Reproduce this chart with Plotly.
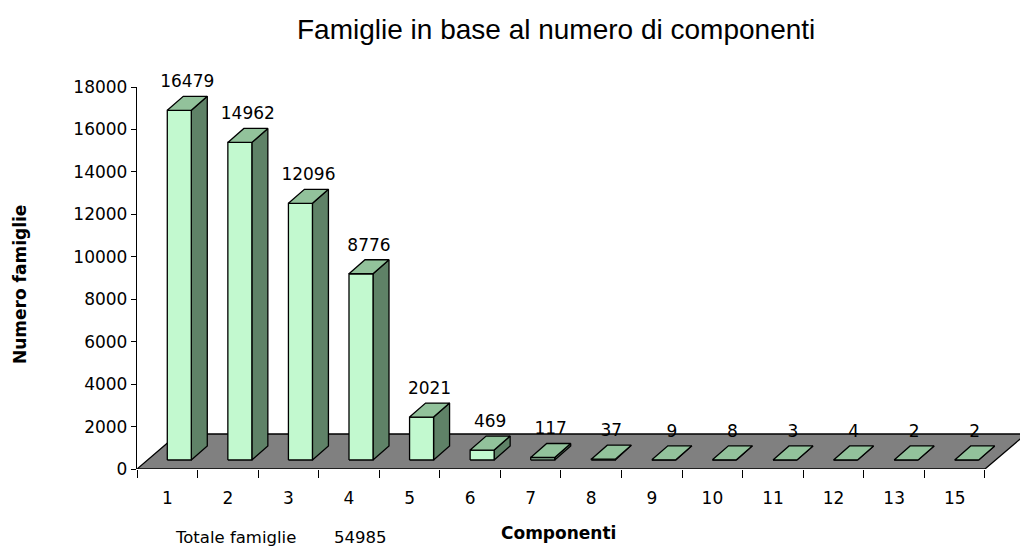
import plotly.graph_objects as go

# Data
categories = ["1", "2", "3", "4", "5", "6", "7", "8", "9", "10", "11", "12", "13", "15"]
families = [16479, 14962, 12096, 8776, 2021, 469, 117, 37, 9, 8, 3, 4, 2, 2]
y_ticks = [0, 2000, 4000, 6000, 8000, 10000, 12000, 14000, 16000, 18000]
total_label = "Totale famiglie"
total_value = 54985

# Layout geometry (pixels)
W, H = 1020, 550
PL, PR, PT, PB = 137, 0, 87, 81
plot_w = W - PL - PR
plot_h = H - PT - PB
Y_MAX = 18000
n = len(categories)
CAT_PX = 60.57                      # pixel width of one category slot
X_MAX = plot_w / CAT_PX
VAL_PER_PX = Y_MAX / plot_h


def dxy(dx_px, dy_px):
    """Convert a pixel offset of the oblique projection into data units."""
    return dx_px / CAT_PX, dy_px * VAL_PER_PX


# oblique offsets used for the pseudo-3D look
FLOOR_DX, FLOOR_DY = dxy(41, 35)    # full depth of the floor
FRONT_DX, FRONT_DY = dxy(12, 9)     # bar front face sits inside the floor
DEPTH_DX, DEPTH_DY = dxy(16, 14)    # bar depth
HALF_W = 12 / CAT_PX
LABEL_GAP = 5 * VAL_PER_PX          # extra space between bar top and its label

FRONT_C = "#C2F9CF"
TOP_C = "#92C29B"
SIDE_C = "#5F8267"
FLOOR_C = "#808080"
EDGE = dict(color="black", width=1.3)

fig = go.Figure()

# floor
fig.add_trace(go.Scatter(
    x=[0, n, n + FLOOR_DX, FLOOR_DX, 0],
    y=[0, 0, FLOOR_DY, FLOOR_DY, 0],
    mode="lines", fill="toself", fillcolor=FLOOR_C, line=EDGE,
    hoverinfo="skip", showlegend=False))

side_x, side_y, front_x, front_y, top_x, top_y = [], [], [], [], [], []
lab_x, lab_y = [], []
for i, v in enumerate(families):
    x0 = i + 0.5 - HALF_W + FRONT_DX
    x1 = i + 0.5 + HALF_W + FRONT_DX
    yb = FRONT_DY
    yt = FRONT_DY + v
    front_x += [x0, x1, x1, x0, x0, None]
    front_y += [yb, yb, yt, yt, yb, None]
    side_x += [x1, x1 + DEPTH_DX, x1 + DEPTH_DX, x1, x1, None]
    side_y += [yb, yb + DEPTH_DY, yt + DEPTH_DY, yt, yb, None]
    top_x += [x0, x1, x1 + DEPTH_DX, x0 + DEPTH_DX, x0, None]
    top_y += [yt, yt, yt + DEPTH_DY, yt + DEPTH_DY, yt, None]
    lab_x.append((x0 + x1) / 2 + DEPTH_DX / 2)
    lab_y.append(yt + DEPTH_DY + LABEL_GAP)

for xs, ys, col in [(side_x, side_y, SIDE_C), (front_x, front_y, FRONT_C), (top_x, top_y, TOP_C)]:
    fig.add_trace(go.Scatter(
        x=xs, y=ys, mode="lines", fill="toself", fillcolor=col, line=EDGE,
        hoverinfo="skip", showlegend=False))

# value labels above each bar
fig.add_trace(go.Scatter(
    x=lab_x, y=lab_y, mode="text", text=[str(v) for v in families],
    textposition="top center", cliponaxis=False,
    textfont=dict(family="DejaVu Sans", size=17, color="black"),
    hoverinfo="skip", showlegend=False))


def px_x(p):
    return (p - PL) / plot_w


def px_y(p):
    return (H - PB - p) / plot_h


annotations = [
    dict(text="Famiglie in base al numero di componenti", x=px_x(556), y=px_y(30),
         font=dict(family="Liberation Sans, Arial", size=28, color="black")),
    dict(text="<b>Numero famiglie</b>", x=px_x(20), y=px_y(284), textangle=-90,
         font=dict(family="DejaVu Sans", size=17, color="black")),
    dict(text="<b>Componenti</b>", x=px_x(558), y=px_y(533),
         font=dict(family="DejaVu Sans", size=17, color="black")),
    dict(text=total_label, x=px_x(173), y=px_y(537), xanchor="left",
         font=dict(family="DejaVu Sans", size=16.5, color="black")),
    dict(text=str(total_value), x=px_x(332), y=px_y(537), xanchor="left",
         font=dict(family="DejaVu Sans", size=16.5, color="black")),
]
for a in annotations:
    a.setdefault("xanchor", "center")
    a.update(xref="paper", yref="paper", yanchor="middle", showarrow=False)

fig.update_layout(
    width=W, height=H,
    margin=dict(l=PL, r=PR, t=PT, b=PB, pad=0),
    paper_bgcolor="white", plot_bgcolor="white",
    showlegend=False,
    annotations=annotations,
    xaxis=dict(
        range=[0, X_MAX], showgrid=False, zeroline=False, showline=False,
        tickmode="array", tickvals=[i + 0.5 for i in range(n)], ticktext=categories,
        ticks="", ticklabelstandoff=17,
        tickfont=dict(family="DejaVu Sans", size=17, color="black"),
        minor=dict(tickmode="array", tickvals=list(range(n + 1)), ticks="outside",
                   ticklen=8, tickwidth=1.3, tickcolor="black", showgrid=False),
        fixedrange=True),
    yaxis=dict(
        range=[0, Y_MAX], showgrid=False, zeroline=False,
        showline=True, linecolor="black", linewidth=1.3,
        tickmode="array", tickvals=y_ticks, ticktext=[str(t) for t in y_ticks],
        ticks="outside", ticklen=5, tickwidth=1.3, tickcolor="black",
        tickfont=dict(family="DejaVu Sans", size=17, color="black"),
        fixedrange=True),
)

fig.write_html("out.html")
